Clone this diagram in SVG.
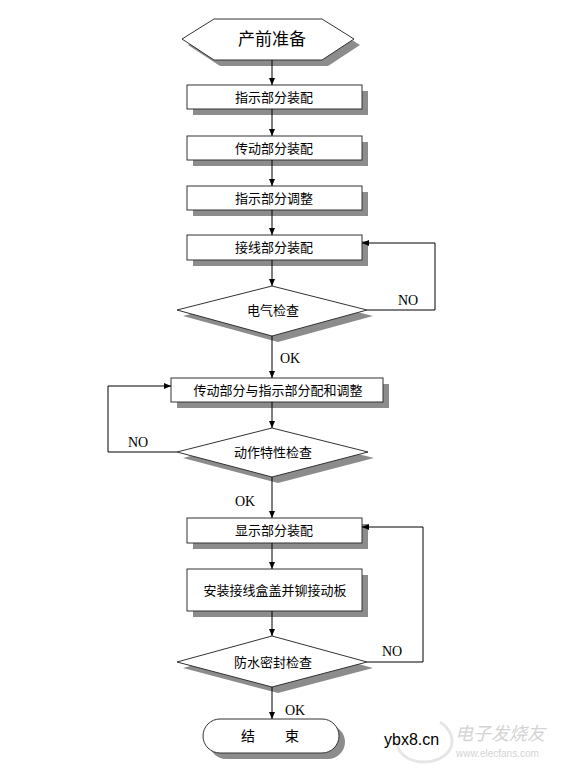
<svg xmlns="http://www.w3.org/2000/svg" width="562" height="769" viewBox="0 0 562 769">
<defs>
<style>
.sh{fill:#8c8c8c;stroke:none}
.nd{fill:#fff;stroke:#333;stroke-width:1}
.cn{fill:none;stroke:#000;stroke-width:1}
.lb{font-family:"Noto Sans CJK SC","Noto Sans",sans-serif;font-size:13px;fill:#000;text-anchor:middle}
.en{font-family:"Liberation Serif",serif;font-size:14px;fill:#000}
</style>
<marker id="ah" markerWidth="8" markerHeight="8" refX="7" refY="4" orient="auto" markerUnits="userSpaceOnUse">
<path d="M0,1 L7,4 L0,7 Z" fill="#000"/>
</marker>
</defs>
<rect width="562" height="769" fill="#fff"/>

<g id="start">
<polygon class="sh" points="188,45 220,25 328,25 360,45 328,66 220,66"/>
<polygon class="nd" points="182,39 214,19 322,19 354,39 322,60 214,60"/>
<text class="lb" x="272" y="45" style="font-size:17px">产前准备</text>
</g>

<g id="n1">
<rect class="sh" x="193" y="91" width="175" height="24"/>
<rect class="nd" x="187" y="85" width="175" height="24"/>
<text class="lb" x="274" y="102">指示部分装配</text>
</g>

<g id="n2">
<rect class="sh" x="193" y="142" width="175" height="24"/>
<rect class="nd" x="187" y="136" width="175" height="24"/>
<text class="lb" x="274" y="153">传动部分装配</text>
</g>

<g id="n3">
<rect class="sh" x="193" y="192" width="175" height="24"/>
<rect class="nd" x="187" y="186" width="175" height="24"/>
<text class="lb" x="274" y="203">指示部分调整</text>
</g>

<g id="n4">
<rect class="sh" x="193" y="241" width="175" height="25"/>
<rect class="nd" x="187" y="235" width="175" height="25"/>
<text class="lb" x="274" y="252">接线部分装配</text>
</g>

<g id="d1">
<polygon class="sh" points="183,316 278,292 373,316 278,342"/>
<polygon class="nd" points="177,310 272,286 367,310 272,336"/>
<text class="lb" x="273" y="315">电气检查</text>
</g>

<g id="n5">
<rect class="sh" x="177" y="384" width="212" height="24"/>
<rect class="nd" x="171" y="378" width="212" height="24"/>
<text class="lb" x="278" y="395">传动部分与指示部分配和调整</text>
</g>

<g id="d2">
<polygon class="sh" points="183,458 278,434 374,458 278,483"/>
<polygon class="nd" points="177,452 272,428 368,452 272,477"/>
<text class="lb" x="273" y="457">动作特性检查</text>
</g>

<g id="n6">
<rect class="sh" x="193" y="524" width="175" height="25"/>
<rect class="nd" x="187" y="518" width="175" height="25"/>
<text class="lb" x="274" y="535">显示部分装配</text>
</g>

<g id="n7">
<rect class="sh" x="193" y="575" width="175" height="42"/>
<rect class="nd" x="187" y="569" width="175" height="42"/>
<text class="lb" x="275" y="595">安装接线盒盖并铆接动板</text>
</g>

<g id="d3">
<polygon class="sh" points="183,668 278,642 373,668 278,693"/>
<polygon class="nd" points="177,662 272,636 367,662 272,687"/>
<text class="lb" x="273" y="667">防水密封检查</text>
</g>

<g id="end">
<rect class="sh" x="209" y="725" width="136" height="34" rx="17"/>
<rect class="nd" x="203" y="719" width="136" height="34" rx="17"/>
<text class="lb" x="248" y="741" style="font-size:14px">结</text>
<text class="lb" x="292" y="741" style="font-size:14px">束</text>
</g>

<g id="connectors">
<line class="cn" x1="272" y1="60" x2="272" y2="85" marker-end="url(#ah)"/>
<line class="cn" x1="272" y1="109" x2="272" y2="136" marker-end="url(#ah)"/>
<line class="cn" x1="272" y1="160" x2="272" y2="186" marker-end="url(#ah)"/>
<line class="cn" x1="272" y1="210" x2="272" y2="235" marker-end="url(#ah)"/>
<line class="cn" x1="272" y1="260" x2="272" y2="286" marker-end="url(#ah)"/>
<polyline class="cn" points="367,310 435,310 435,243 362,243" marker-end="url(#ah)"/>
<line class="cn" x1="272" y1="336" x2="272" y2="378" marker-end="url(#ah)"/>
<line class="cn" x1="272" y1="402" x2="272" y2="428" marker-end="url(#ah)"/>
<polyline class="cn" points="177,452 108,452 108,386 171,386" marker-end="url(#ah)"/>
<line class="cn" x1="272" y1="477" x2="272" y2="518" marker-end="url(#ah)"/>
<line class="cn" x1="272" y1="543" x2="272" y2="569" marker-end="url(#ah)"/>
<line class="cn" x1="272" y1="611" x2="272" y2="636" marker-end="url(#ah)"/>
<polyline class="cn" points="367,662 423,662 423,527 362,527" marker-end="url(#ah)"/>
<line class="cn" x1="272" y1="687" x2="272" y2="719" marker-end="url(#ah)"/>
<text class="en" x="398" y="305">NO</text>
<text class="en" x="280" y="363">OK</text>
<text class="en" x="128" y="447">NO</text>
<text class="en" x="235" y="506">OK</text>
<text class="en" x="382" y="656">NO</text>
<text class="en" x="285" y="715">OK</text>
</g>

<g id="watermark">
<path d="M440,722 C460,735 455,760 425,762 C405,762 395,750 398,740" fill="none" stroke="#e6e6e6" stroke-width="3"/>
<text x="384" y="745" style="font-family:'Liberation Sans',sans-serif;font-size:16px;fill:#000">ybx8.cn</text>
<text x="455" y="740" style="font-family:'Noto Sans CJK SC',sans-serif;font-size:18px;font-style:italic;fill:#d4d4d4">电子发烧友</text>
<text x="456" y="757" style="font-family:'Liberation Sans',sans-serif;font-size:10px;fill:#d4d4d4">www.elecfans.com</text>
</g>
</svg>
